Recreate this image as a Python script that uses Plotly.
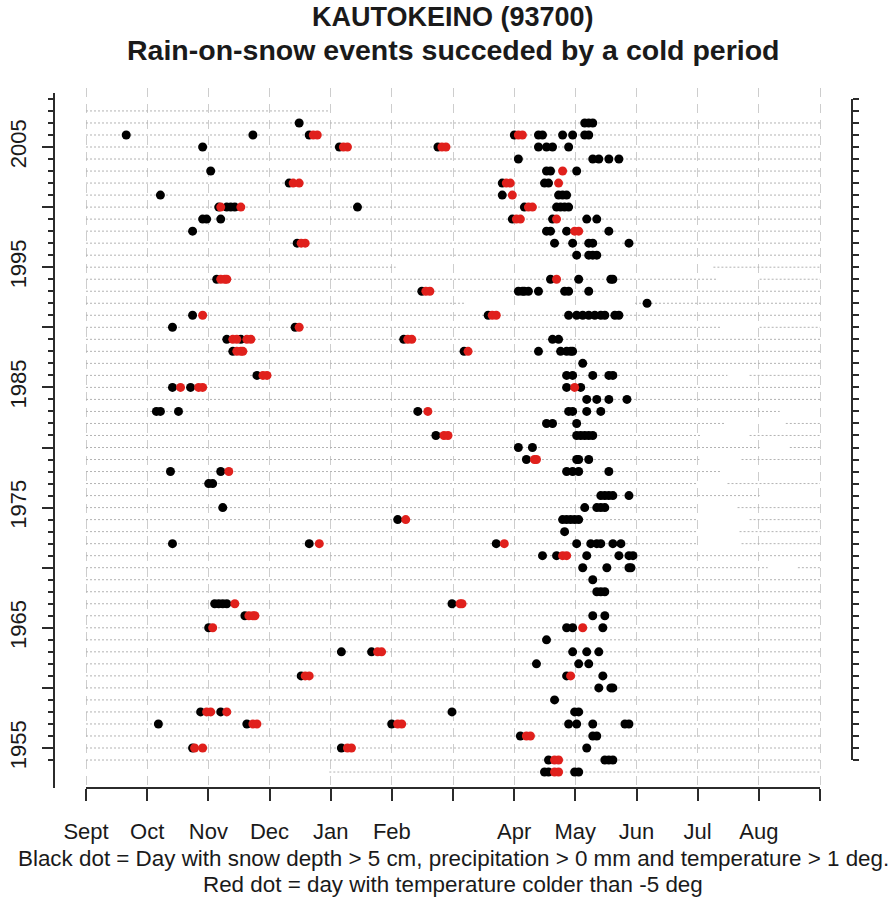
import plotly.graph_objects as go

# ---------------- data ----------------
title_line1 = "KAUTOKEINO (93700)"
title_line2 = "Rain-on-snow events succeded by a cold period"
note_line1 = "Black dot = Day with snow depth > 5 cm, precipitation > 0 mm and temperature > 1 deg."
note_line2 = "Red dot = day with temperature colder than -5 deg"

month_labels = ["Sept", "Oct", "Nov", "Dec", "Jan", "Feb", "", "Apr", "May", "Jun", "Jul", "Aug", ""]
season_length = 365  # days counted from 1 September

row_years = list(range(2008, 1952, -1))  # 2008 ... 1953

# day-of-season (0 = 1 Sept) of the black and red dots, one list per row year
black_days = [
    [],                                              # 2008
    [106, 248, 250, 252],                            # 2007
    [20, 83, 111, 213, 225, 227, 237, 242, 248, 250],# 2006
    [58, 126, 175, 225, 229, 232, 240],              # 2005
    [215, 252, 255, 260, 265],                       # 2004
    [62, 229, 231, 244],                             # 2003
    [101, 207, 228, 230],                            # 2002
    [37, 207, 235, 237, 239],                        # 2001
    [66, 70, 72, 74, 135, 218, 234, 236, 238, 240],  # 2000
    [58, 60, 67, 212, 232, 249, 254],                # 1999
    [53, 229, 231, 239, 260],                        # 1998
    [105, 233, 242, 250, 252, 270],                  # 1997
    [244, 250, 252, 254],                            # 1996
    [],                                              # 1995
    [65, 231, 245, 261, 262],                        # 1994
    [167, 215, 217, 218, 220, 225, 238, 240, 250],   # 1993
    [279],                                           # 1992
    [53, 200, 240, 244, 247, 250, 253, 256, 258, 263, 265],  # 1991
    [43, 104],                                       # 1990
    [70, 77, 158, 232, 235],                         # 1989
    [73, 188, 225, 236, 239, 241, 242],              # 1988
    [247],                                           # 1987
    [85, 239, 242, 252, 260, 262],                   # 1986
    [43, 52, 239, 246],                              # 1985
    [249, 254, 260, 269],                            # 1984
    [35, 37, 46, 165, 240, 242, 249, 256],           # 1983
    [229, 232, 244],                                 # 1982
    [174, 244, 246, 248, 250, 252],                  # 1981
    [215, 222],                                      # 1980
    [219, 244, 245, 250],                            # 1979
    [42, 67, 239, 242, 245, 260],                    # 1978
    [61, 63],                                        # 1977
    [256, 258, 260, 262, 270],                       # 1976
    [68, 248, 254, 256, 258],                        # 1975
    [155, 237, 239, 241, 243, 245],                  # 1974
    [238],                                           # 1973
    [43, 111, 204, 244, 251, 254, 256, 262, 266],    # 1972
    [227, 234, 249, 265, 270, 272],                  # 1971
    [247, 259, 270, 271],                            # 1970
    [252],                                           # 1969
    [254, 256, 258],                                 # 1968
    [64, 66, 68, 70, 182],                           # 1967
    [79, 252, 258],                                  # 1966
    [61, 239, 242, 257],                             # 1965
    [229],                                           # 1964
    [127, 142, 242, 249, 255],                       # 1963
    [224, 245, 250],                                 # 1962
    [107, 239, 257],                                 # 1961
    [255, 261, 262],                                 # 1960
    [233],                                           # 1959
    [57, 67, 182, 243, 245],                         # 1958
    [36, 80, 152, 240, 244, 252, 268, 270],          # 1957
    [216, 252, 254],                                 # 1956
    [53, 127, 249],                                  # 1955
    [230, 258, 260, 262],                            # 1954
    [228, 230, 243, 245],                            # 1953
]

red_days = [
    [],                       # 2008
    [],                       # 2007
    [113, 115, 215, 217],     # 2006
    [128, 130, 177, 179],     # 2005
    [],                       # 2004
    [237],                    # 2003
    [103, 106, 209, 211, 235],# 2002
    [212],                    # 2001
    [67, 77, 220, 222],       # 2000
    [214, 216, 234],          # 1999
    [243, 245],               # 1998
    [107, 109],               # 1997
    [],                       # 1996
    [],                       # 1995
    [67, 69, 70, 234],        # 1994
    [169, 171],               # 1993
    [],                       # 1992
    [58, 202, 204],           # 1991
    [106],                    # 1990
    [73, 75, 80, 82, 160, 162],  # 1989
    [75, 77, 78, 190],        # 1988
    [],                       # 1987
    [88, 90],                 # 1986
    [47, 56, 58, 243],        # 1985
    [],                       # 1984
    [170],                    # 1983
    [],                       # 1982
    [178, 180],               # 1981
    [],                       # 1980
    [223, 224],               # 1979
    [71],                     # 1978
    [],                       # 1977
    [],                       # 1976
    [],                       # 1975
    [159],                    # 1974
    [],                       # 1973
    [116, 208],               # 1972
    [237, 239],               # 1971
    [],                       # 1970
    [],                       # 1969
    [],                       # 1968
    [74, 186, 187],           # 1967
    [81, 83, 84],             # 1966
    [63, 247],                # 1965
    [],                       # 1964
    [145, 147],               # 1963
    [],                       # 1962
    [109, 111, 241],          # 1961
    [],                       # 1960
    [],                       # 1959
    [60, 62, 70],             # 1958
    [83, 85, 155, 157],       # 1957
    [219, 221],               # 1956
    [54, 58, 130, 132],       # 1955
    [233, 235],               # 1954
    [233, 235],               # 1953
]

# periods without records (start day, end day) for some rows
gap_years = [2008, 1995, 1994, 1992, 1990, 1986, 1983, 1982, 1981, 1980, 1979,
             1978, 1977, 1976, 1975, 1974, 1973, 1972, 1970, 1953]
gap_spans = [(121, 365), (154, 312), (314, 335), (188, 273), (316, 335), (319, 330),
             (345, 365), (318, 348), (306, 330), (335, 350), (305, 326),
             (316, 365), (304, 319), (335, 365), (304, 324), (304, 330), (304, 325),
             (304, 326), (339, 354), (0, 121)]

left_axis_major = list(range(1955, 2006, 5))
left_axis_labelled = list(range(1955, 2006, 10))
tick_years = list(range(1954, 2010))

# ---------------- figure ----------------
FONT = "Liberation Sans, Arial, Helvetica, sans-serif"
AXIS_COLOR = "#2b2b2b"

fig = go.Figure()

# dotted row lines
lx, ly = [], []
gaps = dict(zip(gap_years, gap_spans))
for yr in row_years:
    segs = [(0, season_length)]
    if yr in gaps:
        g0, g1 = gaps[yr]
        segs = [s for s in [(0, g0), (g1, season_length)] if s[1] - s[0] > 0]
    for a, b in segs:
        lx += [a, b, None]
        ly += [yr, yr, None]
fig.add_trace(go.Scatter(x=lx, y=ly, mode="lines", hoverinfo="skip",
                         line=dict(color="#b3b3b3", width=1, dash="2px,2px")))

bx, by, rx, ry = [], [], [], []
for yr, bd, rd in zip(row_years, black_days, red_days):
    bx += bd
    by += [yr] * len(bd)
    rx += rd
    ry += [yr] * len(rd)

fig.add_trace(go.Scatter(x=bx, y=by, mode="markers", name="black",
                         marker=dict(color="#000000", size=9, line=dict(width=0))))
fig.add_trace(go.Scatter(x=rx, y=ry, mode="markers", name="red",
                         marker=dict(color="#e0201c", size=9, line=dict(width=0))))
# attach right axis
fig.add_trace(go.Scatter(x=[None], y=[None], yaxis="y2", mode="lines", hoverinfo="skip"))

month_ticks = [k * season_length / 12 for k in range(13)]

px_per_day = 734 / 365.0
x_lo = -32 / px_per_day
x_hi = season_length + 32 / px_per_day
y_lo, y_hi = 1951.672, 2009.909

fig.update_layout(
    width=892, height=901,
    margin=dict(l=54, r=40, t=88, b=113),
    paper_bgcolor="white", plot_bgcolor="white",
    showlegend=False,
    font=dict(family=FONT, color="#1a1a1a"),
    xaxis=dict(
        range=[x_lo, x_hi], tickmode="array", tickvals=month_ticks, ticktext=month_labels,
        ticks="outside", ticklen=12, tickwidth=1.5, tickcolor=AXIS_COLOR,
        showline=False, zeroline=False, automargin=False,
        showgrid=True, gridcolor="#cdcdcd", gridwidth=1, griddash="9px,7px",
        tickfont=dict(size=22, family=FONT, color="#1a1a1a"),
        ticklabelstandoff=12,
    ),
    yaxis=dict(
        range=[y_lo, y_hi], tickmode="array", tickvals=left_axis_major,
        ticktext=[str(v) if v in left_axis_labelled else "" for v in left_axis_major],
        ticks="outside", ticklen=11, tickwidth=1.5, tickcolor=AXIS_COLOR,
        minor=dict(tickmode="array", tickvals=[v for v in tick_years if v not in left_axis_major],
                   ticks="outside", ticklen=5, tickwidth=1.5, tickcolor=AXIS_COLOR, showgrid=False),
        showline=False, zeroline=False, showgrid=False, automargin=False,
        tickangle=-90, tickfont=dict(size=22, family=FONT, color="#1a1a1a"),
        ticklabelstandoff=7,
    ),
    yaxis2=dict(
        range=[y_lo, y_hi], overlaying="y", side="right", tickmode="array",
        tickvals=tick_years, ticks="outside", ticklen=6, tickwidth=1.5, tickcolor=AXIS_COLOR,
        showticklabels=False, showline=False, zeroline=False, showgrid=False, automargin=False,
    ),
    shapes=[
        dict(type="line", xref="x", yref="paper", x0=0, x1=season_length, y0=0, y1=0,
             line=dict(color=AXIS_COLOR, width=2)),
        dict(type="line", xref="paper", yref="y", x0=0, x1=0, y0=y_lo, y1=2009.5,
             line=dict(color=AXIS_COLOR, width=2)),
        dict(type="line", xref="paper", yref="y", x0=1, x1=1, y0=1954, y1=2009,
             line=dict(color=AXIS_COLOR, width=2)),
    ],
)

plot_h = 901 - 88 - 113
def ypaper(py):
    return (788 - py) / plot_h

annots = [
    (title_line1, ypaper(17), 27, True),
    (title_line2, ypaper(49.5), 28.5, True),
    (note_line1, ypaper(858), 22.4, False),
    (note_line2, ypaper(884), 22.4, False),
]
for text, yp, size, bold in annots:
    fig.add_annotation(
        text=f"<b>{text}</b>" if bold else text,
        xref="paper", yref="paper", x=0.5, y=yp, xanchor="center", yanchor="middle",
        showarrow=False, font=dict(size=size, family=FONT, color="#1a1a1a"),
    )

fig.write_html("out.html")
